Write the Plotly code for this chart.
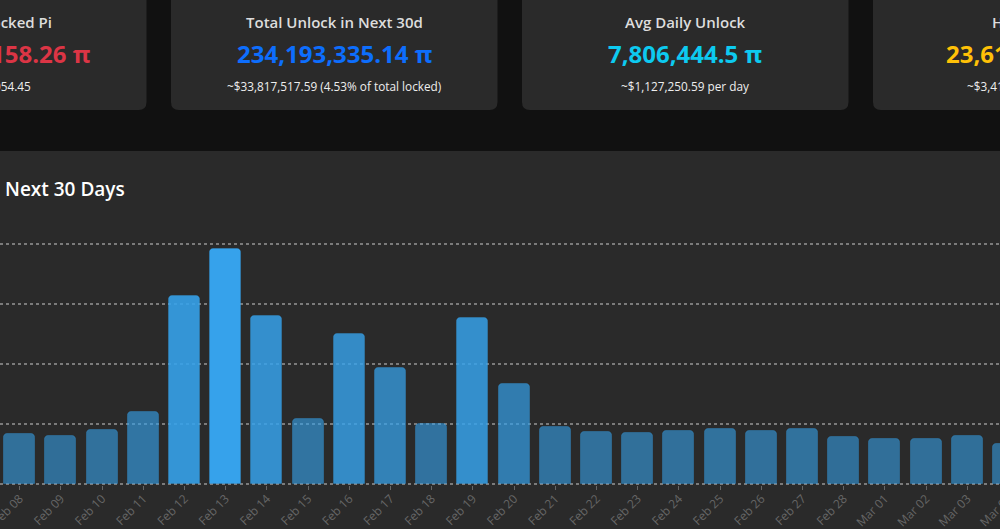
import plotly.graph_objects as go

days = ["Feb 08", "Feb 09", "Feb 10", "Feb 11", "Feb 12", "Feb 13", "Feb 14", "Feb 15", "Feb 16",
        "Feb 17", "Feb 18", "Feb 19", "Feb 20", "Feb 21", "Feb 22", "Feb 23", "Feb 24", "Feb 25",
        "Feb 26", "Feb 27", "Feb 28", "Mar 01", "Mar 02", "Mar 03", "Mar 04"]
unlocks = [5.05e6, 4.8e6, 5.45e6, 7.25e6, 18.8e6, 23.55e6, 16.8e6, 6.55e6, 15.05e6,
           11.65e6, 6.05e6, 16.65e6, 10.05e6, 5.75e6, 5.25e6, 5.15e6, 5.3e6, 5.55e6,
           5.35e6, 5.55e6, 4.75e6, 4.5e6, 4.55e6, 4.85e6, 4.05e6]
grid_values = [0, 6e6, 12e6, 18e6, 24e6]

W, H = 1030, 529  # wider than the window so the Mar 04 tick still draws
FONT = "Open Sans"
CARD = "#2a2a2a"
STEP = 41.2
FIRST_CENTER = 19.7
BASE_Y, TOP_Y = 484, 244
PAD_TOP, PAD_BOTTOM = 2, 1  # px around the value range so the outer gridlines are not clipped


def px(x):
    return x / W


def py(y):
    return 1 - y / H


def card_path(x0, x1, y0, y1, r=8):
    return (
        f"M {px(x0)} {py(y0)} L {px(x1)} {py(y0)} L {px(x1)} {py(y1 - r)} "
        f"Q {px(x1)} {py(y1)} {px(x1 - r)} {py(y1)} L {px(x0 + r)} {py(y1)} "
        f"Q {px(x0)} {py(y1)} {px(x0)} {py(y1 - r)} Z"
    )


def label(fig, x, y, text, size, color, anchor="center", weight=400):
    fig.add_annotation(
        xref="paper", yref="paper", x=px(x), y=py(y), text=text,
        showarrow=False, xanchor=anchor, yanchor="middle",
        font=dict(family=FONT, size=size, color=color, weight=weight),
    )


top = max(unlocks)
colors = [f"rgba(54,162,235,{0.47 + 0.53 * v / top:.3f})" for v in unlocks]

fig = go.Figure(
    go.Bar(
        x=days, y=unlocks, width=31 / STEP,
        marker=dict(color=colors, line=dict(color="rgba(54,162,235,0.3)", width=1), cornerradius=4),
        hovertemplate="%{x}<br>%{y:,.2f} π<extra></extra>",
    )
)

# cards and chart panel
for x0, x1 in [(-200, 146.5), (171, 497.5), (522, 848.5), (873, 1199)]:
    fig.add_shape(type="path", xref="paper", yref="paper", path=card_path(x0, x1, -20, 110),
                  fillcolor=CARD, line_width=0, layer="below")
fig.add_shape(type="rect", xref="paper", yref="paper", x0=0, x1=1, y0=0, y1=py(151),
              fillcolor=CARD, line_width=0, layer="below")

label(fig, 54, 22, "Total Locked Pi", 15, "#dddddd", "right", 600)
label(fig, 92, 54, "158.26 π", 24, "#dc3545", "right", 700)
label(fig, 33, 86, "054.45", 11.8, "#eeeeee", "right")

label(fig, 334, 22, "Total Unlock in Next 30d", 15, "#dddddd", weight=600)
label(fig, 334, 54, "234,193,335.14 π", 24, "#0d6efd", weight=700)
label(fig, 334, 86, "~$33,817,517.59 (4.53% of total locked)", 11.8, "#eeeeee")

label(fig, 685, 22, "Avg Daily Unlock", 15, "#dddddd", weight=600)
label(fig, 685, 54, "7,806,444.5 π", 24, "#0dcaf0", weight=700)
label(fig, 685, 86, "~$1,127,250.59 per day", 11.8, "#eeeeee")

label(fig, 990, 22, "H", 15, "#dddddd", "left", 600)
label(fig, 944, 54, "23,61", 24, "#ffc107", "left", 700)
label(fig, 965, 86, "~$3,41", 11.8, "#eeeeee", "left")

label(fig, 3, 189, "Next 30 Days", 19, "#ffffff", "left", 600)

grid_per_px = 24e6 / (BASE_Y - TOP_Y)
fig.update_layout(
    width=W, height=H, margin=dict(l=0, r=0, t=0, b=0),
    paper_bgcolor="#111111", plot_bgcolor="rgba(0,0,0,0)",
    showlegend=False, bargap=0,
)
fig.update_xaxes(
    type="category", categoryorder="array", categoryarray=days, automargin=False,
    range=[-FIRST_CENTER / STEP, (W - FIRST_CENTER) / STEP],
    showgrid=False, zeroline=False, showline=False,
    ticks="outside", ticklen=4, tickwidth=1, tickcolor="#666666", ticklabelstandoff=-3,
    tickangle=-45, tickfont=dict(family=FONT, size=12, color="#666666"),
    tickmode="array", tickvals=days, ticktext=days,
)
fig.update_yaxes(
    range=[-PAD_BOTTOM * grid_per_px, 24e6 + PAD_TOP * grid_per_px], automargin=False,
    domain=[py(BASE_Y + PAD_BOTTOM), py(TOP_Y - PAD_TOP)],
    tickmode="array", tickvals=grid_values, showticklabels=False, ticks="",
    showgrid=True, griddash="3px,3px", gridcolor="rgba(255,255,255,0.38)", gridwidth=2,
    zeroline=False, showline=False,
)

fig.write_html(
    "out.html",
    config={"displayModeBar": False},
    post_script="document.body.style.margin='0';document.body.style.overflow='hidden';",
)
